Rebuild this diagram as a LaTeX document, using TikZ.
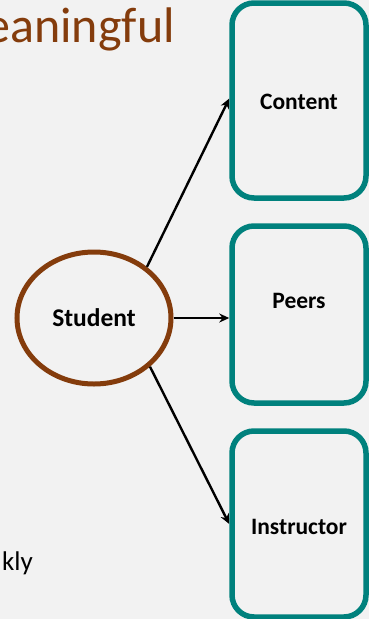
\documentclass[tikz,border=0pt]{standalone}
\usepackage{fontspec}
\setmainfont{Carlito}
\usetikzlibrary{arrows.meta,shapes.geometric}
\definecolor{bg}{HTML}{F2F2F2}
\definecolor{tealbox}{HTML}{00817D}
\definecolor{brownc}{HTML}{843C0C}
\begin{document}
\begin{tikzpicture}[x=1pt,y=-1pt,
  box/.style={draw=tealbox,line width=5.5pt,rounded corners=22pt,minimum width=134pt,inner sep=0pt},
  lbl/.style={font=\bfseries\fontsize{23.5}{28}\selectfont,inner sep=0pt},
  arr/.style={line width=2.4pt,-{Stealth[length=10pt,width=9pt]}}]
\path[fill=bg] (0,0) rectangle (369,619);
\useasboundingbox (0,0) rectangle (369,619);
% title fragments
\node[anchor=base east,inner sep=0pt,text=brownc,font=\fontsize{50}{54}\selectfont] (title) at (175,42) {eaningful};
\node[anchor=base east,inner sep=0pt,font=\fontsize{27}{30}\selectfont] (bottomtext) at (33,570) {kly};
% student
\node[draw=brownc,line width=5pt,ellipse,minimum width=154pt,minimum height=132pt,inner sep=0pt] (student) at (94,318) {};
\node[font=\bfseries\fontsize{25.5}{30}\selectfont,inner sep=0pt] (studentlbl) at (94,318) {Student};
% boxes
\node[box,minimum height=195pt] (content) at (299,100.5) {};
\node[box,minimum height=177pt] (peers) at (299,314.5) {};
\node[box,minimum height=186pt] (instructor) at (299,524) {};
\node[lbl] (contentlbl) at (299,102) {Content};
\node[lbl] (peerslbl) at (299,301) {Peers};
\node[lbl] (instructorlbl) at (299,527) {Instructor};
% arrows
\draw[arr] (student.44.5) -- ([yshift=2pt]content.west);
\draw[arr] (student.east) -- (student.east -| peers.west);
\draw[arr] (student.-41) -- (instructor.west);
\end{tikzpicture}
\end{document}
